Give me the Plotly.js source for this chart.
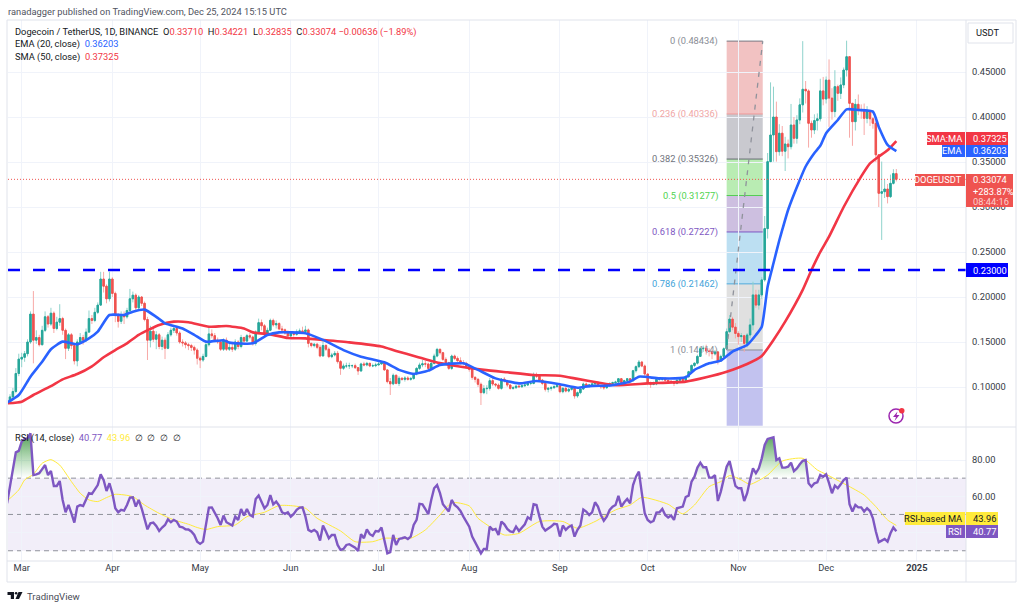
<!DOCTYPE html>
<html><head><meta charset="utf-8">
<script src="https://cdn.plot.ly/plotly-3.0.1.min.js"></script>
<style>html,body{margin:0;padding:0;background:#fff;overflow:hidden}#c{width:1024px;height:609px}</style>
</head><body><div id="c"></div>
<script>
const firstDay = '2024-02-25';
const openFirst = 0.082;
const closeFeb=[.083,.089,.095,.115,.131];
const closeMar=[.133,.137,.150,.181,.152,.155,.147,.163,.178,.170,.182,.165,.172,.176,.163,.143,.158,.146,.129,.150,.155,.152,.161,.176,.174,.183,.191,.220,.212,.198,.220];
const closeApr=[.204,.180,.173,.180,.178,.185,.198,.202,.188,.200,.193,.175,.152,.162,.153,.158,.145,.152,.143,.158,.163,.165,.160,.150,.149,.147,.146,.144,.141,.132];
const closeMay=[.130,.134,.147,.159,.157,.152,.150,.142,.152,.142,.144,.142,.150,.145,.155,.151,.157,.1555,.1485,.161,.1715,.168,.160,.163,.174,.169,.1705,.1645,.1635,.160,.1567];
const closeJun=[.1597,.1585,.1615,.1623,.1615,.1634,.1485,.146,.1475,.1441,.1345,.1461,.142,.1337,.1356,.1374,.1282,.1208,.1234,.1234,.1237,.1237,.1215,.1178,.1256,.1245,.1263,.1234,.1237,.1245];
const closeJul=[.1256,.1271,.1190,.1060,.1035,.1130,.1040,.1097,.1085,.1100,.1085,.1095,.1145,.1207,.1245,.1257,.1255,.1207,.1263,.1344,.1418,.1381,.1307,.1270,.1207,.1344,.1318,.1292,.1270,.1263,.1226];
const closeAug=[.1196,.1107,.1085,.1030,.0937,.0981,.0985,.1070,.1033,.1022,.0985,.1088,.1070,.1022,.0985,.0992,.1010,.1003,.1014,.1022,.1040,.1040,.1133,.1120,.1077,.1040,.0974,.0985,.0992,.1003,.1014];
const closeSep=[.0948,.0985,.0955,.0974,.0985,.0900,.0937,.0977,.1033,.1014,.1022,.1033,.1051,.1014,.1003,.0992,.1022,.1040,.1048,.1055,.1092,.1051,.1070,.1092,.1070,.1181,.1226,.1277,.1233,.1144];
const closeOct=[.1040,.1030,.1033,.1085,.1085,.1095,.1075,.1065,.1055,.1040,.1075,.1085,.1075,.1115,.1170,.1240,.1265,.1340,.1425,.1430,.1400,.1395,.1370,.1390,.1290,.1340,.1425,.1615,.1755,.1665,.1595];
const closeNov=[.1560,.1570,.1485,.1578,.1690,.2023,.1910,.2023,.2190,.2760,.3504,.3800,.4000,.3615,.3820,.3620,.3700,.3670,.3911,.3763,.3967,.4135,.4308,.4290,.3930,.3856,.3960,.3980,.4290,.4200];
const closeDec=[.4410,.4210,.4060,.4337,.4263,.4356,.4522,.4670,.4152,.3948,.4141,.4075,.4075,.3985,.4060,.3980,.3930,.3580,.3152,.3170,.3200,.3115,.3263,.3371,.33074];

const highFeb=[.085,.092,.099,.121,.137];
const highMar=[.138,.140,.153,.184,.2066,.163,.158,.168,.184,.180,.188,.184,.178,.192,.178,.165,.160,.160,.147,.153,.160,.158,.165,.185,.180,.188,.194,.228,.228,.214,.228];
const highApr=[.222,.206,.182,.184,.184,.188,.209,.206,.204,.202,.201,.195,.178,.168,.166,.162,.160,.156,.155,.161,.166,.168,.168,.162,.153,.151,.149,.148,.146,.143];
const highMay=[.134,.137,.150,.168,.164,.160,.155,.152,.154,.155,.148,.148,.153,.152,.158,.156,.159,.160,.157,.163,.176,.175,.170,.166,.176,.176,.174,.172,.168,.165,.163];
const highJun=[.162,.162,.164,.165,.167,.168,.165,.149,.149,.149,.147,.152,.148,.144,.138,.140,.140,.130,.126,.127,.127,.125,.126,.122,.127,.128,.128,.127,.126,.127];
const highJul=[.128,.129,.128,.119,.110,.115,.114,.112,.111,.112,.112,.111,.116,.122,.127,.130,.129,.127,.128,.137,.1435,.143,.139,.133,.128,.136,.136,.134,.133,.130,.128];
const highAug=[.124,.120,.112,.110,.105,.102,.102,.110,.110,.104,.104,.110,.111,.108,.103,.101,.102,.102,.103,.104,.105,.106,.116,.116,.114,.109,.105,.100,.101,.102,.103];
const highSep=[.102,.100,.100,.099,.101,.100,.095,.099,.105,.105,.103,.105,.106,.106,.102,.101,.103,.105,.106,.107,.110,.110,.108,.110,.110,.119,.124,.130,.129,.125];
const highOct=[.115,.106,.106,.110,.110,.110,.111,.108,.107,.107,.109,.110,.110,.113,.118,.125,.127,.136,.144,.146,.147,.143,.141,.141,.140,.136,.144,.165,.180,.178,.171];
const highNov=[.162,.160,.158,.160,.176,.217,.208,.208,.222,.290,.360,.4385,.4337,.4171,.392,.390,.378,.375,.4145,.4000,.402,.4207,.4843,.440,.4308,.3960,.403,.404,.4425,.4445];
const highDec=[.445,.4640,.432,.4520,.4360,.444,.455,.4848,.4670,.4152,.420,.4250,.414,.4150,.412,.408,.400,.3960,.3530,.3505,.330,.3255,.3360,.3420,.34221];

const lowFeb=[.081,.082,.088,.093,.112];
const lowMar=[.122,.128,.134,.148,.1263,.148,.145,.146,.161,.166,.168,.160,.163,.168,.158,.131,.140,.142,.125,.123,.148,.147,.150,.160,.170,.172,.181,.190,.205,.193,.195];
const lowApr=[.200,.172,.166,.170,.170,.176,.183,.194,.184,.186,.190,.173,.130,.144,.150,.142,.142,.141,.131,.142,.156,.160,.157,.148,.145,.143,.141,.140,.136,.125];
const lowMay=[.121,.128,.133,.145,.154,.150,.148,.140,.140,.140,.140,.139,.140,.142,.143,.147,.150,.153,.146,.146,.160,.163,.156,.158,.162,.167,.165,.163,.160,.158,.155];
const lowJun=[.156,.156,.157,.159,.160,.160,.144,.144,.144,.142,.133,.134,.140,.132,.132,.134,.126,.1135,.119,.121,.120,.121,.120,.1134,.117,.123,.123,.122,.122,.122];
const lowJul=[.124,.125,.118,.104,.0911,.102,.103,.101,.107,.106,.107,.107,.108,.113,.119,.122,.122,.119,.119,.125,.133,.136,.129,.125,.119,.119,.130,.128,.125,.124,.121];
const lowAug=[.117,.108,.105,.100,.0800,.092,.092,.096,.101,.100,.097,.097,.105,.100,.097,.097,.098,.099,.099,.100,.101,.102,.103,.110,.106,.102,.095,.094,.096,.098,.100];
const lowSep=[.093,.093,.094,.094,.096,.087,.088,.092,.097,.100,.099,.101,.102,.100,.098,.097,.098,.100,.103,.103,.104,.103,.104,.105,.106,.106,.116,.121,.122,.112];
const lowOct=[.102,.099,.102,.102,.107,.107,.106,.105,.104,.101,.103,.106,.105,.106,.110,.115,.122,.125,.134,.139,.136,.134,.131,.135,.125,.128,.133,.141,.160,.163,.154];
const lowNov=[.147,.150,.139,.144,.154,.163,.188,.186,.198,.217,.265,.3504,.3504,.3504,.357,.3565,.340,.354,.364,.3704,.3704,.392,.405,.415,.3660,.3770,.381,.385,.395,.413];
const lowDec=[.415,.3890,.397,.4000,.418,.420,.432,.445,.3770,.3680,.385,.4020,.398,.3800,.393,.390,.387,.3500,.3000,.2634,.310,.3040,.3100,.325,.32835];

const rsiFeb=[56.1,65.3,76.3,84.2,85];
const rsiMar=[90.1,91.6,91.9,94.7,71.7,72.1,72.7,75,77.2,71.7,73.9,65.7,65.7,68.4,58,51.2,55.2,50.6,45.5,54.3,55.2,54.7,58,61.7,61.3,63.5,66.2,72.1,69,62.9,67.2];
const rsiApr=[61.7,53.4,51.2,52.5,52.1,55.2,59.3,59.4,54.3,58,53.4,47.9,41.8,45.1,45.5,43.7,40.9,42.8,44.2,47.3,45.7,47,46.1,43.3,42.9,41.8,41.7,40.6,38.7,35];
const rsiMay=[33.8,35,44.2,53.8,53.9,51.2,47.9,44.2,49.4,45.7,44.8,43.9,48.8,47,53,49.4,53,49.7,48.8,58.5,60.4,57.1,53.4,55.2,60.7,55.6,57.1,54.9,51.2,50.3,51.2];
const rsiJun=[48.8,50.3,52.5,53.8,53.9,48.8,41.5,40.6,41.5,40.2,35.6,43.9,40.6,36.9,38.7,38.7,33.2,30.5,31,33.2,33.6,32.8,31.7,29.9,39.1,36.9,41.8,39.1,38.2,40.9];
const rsiJul=[40.6,42.8,36,28.6,29.2,38.7,33.2,36.5,36.9,37.4,36.5,37.8,44.2,47,55.8,55.6,53,50.1,58,64.4,66.2,61.7,55.6,53.4,51.6,58,55.2,53.9,51.9,48.8,45.7];
const rsiAug=[43.3,37.8,34.7,32.3,28.6,31,31,43.3,41.5,42,38.7,46.1,44.6,42,40.6,40.2,43.3,40.9,42.8,44.6,48.4,47.3,55.6,55.2,48.8,43.3,41.1,42,43.3,44.8,44.6];
const rsiSep=[37.8,43.9,41.5,43.1,43.9,37.8,41.5,43.9,52.7,51.6,49.7,51.2,56.7,54.3,49.7,46.6,48.8,52.5,54.3,55.2,60.2,54.3,56.7,58.5,56.1,66.2,70.8,73.6,61.7,50.6];
const rsiOct=[47,45.7,46.4,51,51.2,53,49.7,48.3,49.4,47,53.4,53.8,54.3,59.6,60.4,68.1,70.8,75.8,78.5,76,76,70.3,70.3,71.7,57.4,62.6,69,76.3,79.4,71.7,65.7];
const rsiNov=[64.4,64.4,57.4,61.7,69,75.4,72.7,75.4,80.9,88.3,91.6,91.9,92.5,80,80.9,75.8,75.8,76.3,78.5,73.9,75.4,77.6,79.6,80,67.2,65.3,67.2,67.7,71.7,70.8];
const rsiDec=[72.1,67.2,61.7,65.9,64.4,66.6,69,70.3,55.6,51.6,55.2,53.9,53.9,51.6,53.4,51.9,47.9,40.6,34.7,35.6,36.5,35,39.6,42.8,40.77];

const rsiMaDates=['2024-02-25','2024-02-29','2024-03-02','2024-03-05','2024-03-08','2024-03-11','2024-03-14','2024-03-18','2024-03-21','2024-03-24','2024-03-27','2024-03-30','2024-04-02','2024-04-08','2024-04-12','2024-04-17','2024-04-22','2024-04-27','2024-04-30','2024-05-03','2024-05-07','2024-05-13','2024-05-17','2024-05-23','2024-05-28','2024-06-02','2024-06-06','2024-06-10','2024-06-18','2024-06-23','2024-06-29','2024-07-03','2024-07-12','2024-07-17','2024-07-22','2024-07-26','2024-08-01','2024-08-04','2024-08-08','2024-08-13','2024-08-18','2024-08-25','2024-09-02','2024-09-07','2024-09-13','2024-09-20','2024-09-25','2024-09-29','2024-10-08','2024-10-10','2024-10-13','2024-10-17','2024-10-22','2024-10-26','2024-10-29','2024-11-02','2024-11-05','2024-11-11','2024-11-16','2024-11-23','2024-11-28','2024-12-01','2024-12-08','2024-12-14','2024-12-18','2024-12-22','2024-12-25'];
const rsiMaValues=[57.4,63.5,69,72.1,78.2,80.2,77.2,68.1,61.7,58,57.1,59.3,61.1,59.8,55.2,50.6,47,44.6,42.8,41.7,43.3,44.2,48.8,51.2,54.9,54.7,53.4,47.9,40.9,35,35,36.9,36.9,41.5,49.7,56.5,54.7,47.9,43.3,38.7,39.6,46.1,46.1,42.4,46.1,52.5,55.2,59.4,55.6,53.4,50.3,55.2,65.3,68.1,71.4,69,66.6,71.7,79.4,80.9,74.5,72.1,66.2,60.7,54.3,47,43.96];

const smaDates=['2024-02-25','2024-03-01','2024-03-05','2024-03-11','2024-03-15','2024-03-20','2024-03-25','2024-03-29','2024-04-02','2024-04-06','2024-04-10','2024-04-17','2024-04-22','2024-04-27','2024-05-04','2024-05-10','2024-05-16','2024-05-19','2024-05-25','2024-05-31','2024-06-06','2024-06-12','2024-06-21','2024-07-02','2024-07-07','2024-07-14','2024-07-20','2024-07-27','2024-08-06','2024-08-14','2024-08-23','2024-09-01','2024-09-07','2024-09-14','2024-09-20','2024-10-01','2024-10-14','2024-10-21','2024-10-28','2024-11-04','2024-11-09','2024-11-13','2024-11-17','2024-11-23','2024-11-26','2024-11-29','2024-12-02','2024-12-07','2024-12-13','2024-12-16','2024-12-19','2024-12-22','2024-12-25'];
const smaValues=[.0818,.0837,.0911,.101,.1085,.1144,.123,.133,.141,.1485,.158,.169,.1726,.172,.167,.1678,.165,.1607,.1585,.1545,.154,.1523,.1496,.145,.140,.1337,.1281,.1237,.119,.1163,.1133,.1125,.109,.105,.102,.104,.106,.1108,.117,.1256,.1345,.1523,.1726,.208,.230,.250,.267,.300,.334,.3485,.356,.363,.37325];
const emaDates=['2024-02-25','2024-02-29','2024-03-04','2024-03-08','2024-03-11','2024-03-15','2024-03-20','2024-03-24','2024-03-27','2024-03-31','2024-04-05','2024-04-08','2024-04-12','2024-04-16','2024-04-19','2024-04-25','2024-04-29','2024-05-03','2024-05-09','2024-05-11','2024-05-19','2024-05-24','2024-05-28','2024-06-06','2024-06-12','2024-06-19','2024-06-25','2024-07-03','2024-07-08','2024-07-13','2024-07-18','2024-07-22','2024-07-30','2024-08-04','2024-08-10','2024-08-18','2024-08-24','2024-09-01','2024-09-07','2024-09-11','2024-09-19','2024-09-25','2024-09-28','2024-10-05','2024-10-14','2024-10-17','2024-10-22','2024-10-26','2024-10-30','2024-11-04','2024-11-07','2024-11-09','2024-11-11','2024-11-13','2024-11-15','2024-11-16','2024-11-18','2024-11-22','2024-11-24','2024-11-27','2024-11-29','2024-12-01','2024-12-05','2024-12-08','2024-12-12','2024-12-17','2024-12-19','2024-12-22','2024-12-25'];
const emaValues=[.0826,.0911,.1115,.128,.142,.1504,.1474,.154,.1615,.180,.180,.1837,.186,.178,.1707,.165,.158,.1504,.152,.1493,.1485,.1578,.1607,.1597,.1523,.141,.1337,.1274,.119,.1145,.1182,.1244,.1263,.119,.1096,.104,.1066,.103,.0992,.101,.102,.106,.1115,.1096,.1108,.119,.1263,.1293,.1393,.1467,.1578,.167,.2115,.2375,.263,.2745,.2967,.330,.345,.360,.368,.382,.3967,.4085,.4078,.406,.389,.369,.36203];

const fibRatios=['0','0.236','0.382','0.5','0.618','0.786','1'];
const fibLevels=[.48434,.40336,.35326,.31277,.27227,.21462,.14114];
const fibFills=['#f2c2c2','#c9c9cf','#b9ecb3','#cdbfe0','#bcdff2','#e0e0e0','#c2c2ef'];
const fibLines=['#777a84','#ef9a9a','#666a72','#55cc55','#7e57c2','#4aa8dc','#8a8d96'];
const fibText=['#8a8d96','#efa5a5','#6f727b','#4fd34f','#7e57c2','#3fa3d9','#8a8d96'];
const fibStart='2024-10-28', fibEnd='2024-11-09 08:00', fibFloor=.0570;
const supportLevel=.23;
const priceTicks=[.10,.15,.20,.25,.30,.35,.40,.45];
const rsiTicks=[40,60,80];
const monthDates=['2024-03-01','2024-04-01','2024-05-01','2024-06-01','2024-07-01','2024-08-01','2024-09-01','2024-10-01','2024-11-01','2024-12-01','2025-01-01'];
const monthLabels=['Mar','Apr','May','Jun','Jul','Aug','Sep','Oct','Nov','Dec','<b>2025</b>'];

const close=[].concat(closeFeb,closeMar,closeApr,closeMay,closeJun,closeJul,closeAug,closeSep,closeOct,closeNov,closeDec);
const high0=[].concat(highFeb,highMar,highApr,highMay,highJun,highJul,highAug,highSep,highOct,highNov,highDec);
const low0=[].concat(lowFeb,lowMar,lowApr,lowMay,lowJun,lowJul,lowAug,lowSep,lowOct,lowNov,lowDec);
const rsi=[].concat(rsiFeb,rsiMar,rsiApr,rsiMay,rsiJun,rsiJul,rsiAug,rsiSep,rsiOct,rsiNov,rsiDec);
const open=close.map((c,i)=>i?close[i-1]:openFirst);
const high=high0.map((h,i)=>Math.max(h,open[i],close[i]));
const low=low0.map((l,i)=>Math.min(l,open[i],close[i]));
const days=close.map((_,i)=>{const d=new Date(firstDay+'T00:00:00Z');d.setUTCDate(d.getUTCDate()+i);return d.toISOString().slice(0,10);});

const FONT='Roboto, Arial, sans-serif';
const FS=9.3;
const L=8,R=966,T=20,B=561,SPLIT=427;
const px=x=>(x-L)/(R-L), py=y=>(B-y)/(B-T);
const rect=(x0,y0,x1,y1,fill,line)=>({type:'rect',xref:'paper',yref:'paper',x0:px(x0),x1:px(x1),y0:py(y0),y1:py(y1),fillcolor:fill,line:{color:line||fill,width:line?1:0},layer:'above'});
const seg=(x0,y0,x1,y1,color)=>({type:'line',xref:'paper',yref:'paper',x0:px(x0),x1:px(x1),y0:py(y0),y1:py(y1),line:{color:color,width:1},layer:'above'});
const poly=(pts,fill,line)=>({type:'path',xref:'paper',yref:'paper',path:'M'+pts.map(p=>px(p[0])+' '+py(p[1])).join('L')+'Z',fillcolor:fill,line:{color:line||fill,width:line?1:0},layer:'above'});
const ann=(x,y,text,color,size,anchor)=>({xref:'paper',yref:'paper',x:px(x),y:py(y),text:text,showarrow:false,xanchor:anchor||'left',yanchor:'middle',font:{family:FONT,size:size||FS,color:color||'#131722'},borderpad:0,align:anchor||'left'});
const red=t=>'<span style="color:#f23645">'+t+'</span>';
const gap='&nbsp;&nbsp;';

const shapes=[];
fibLevels.forEach((lv,i)=>{
  const next=i<fibLevels.length-1?fibLevels[i+1]:fibFloor;
  shapes.push({type:'rect',xref:'x',yref:'y',x0:fibStart,x1:fibEnd,y0:next,y1:lv,fillcolor:fibFills[i],line:{width:0},layer:'below'});
  shapes.push({type:'line',xref:'x',yref:'y',x0:fibStart,x1:fibEnd,y0:lv,y1:lv,line:{color:fibLines[i],width:1},layer:'below'});
});
shapes.push({type:'rect',xref:'paper',yref:'y2',x0:0,x1:1,y0:30,y1:70,fillcolor:'rgba(126,87,194,0.10)',line:{width:0},layer:'below'});
[30,50,70].forEach(v=>shapes.push({type:'line',xref:'paper',yref:'y2',x0:0,x1:1,y0:v,y1:v,line:{color:'#8f929b',width:1,dash:'5px,4px'},layer:'below'}));
shapes.push({type:'line',xref:'paper',yref:'y',x0:0,x1:1,y0:close[close.length-1],y1:close[close.length-1],line:{color:'#ef5350',width:1,dash:'1px,2px'},layer:'above'});
shapes.push({type:'line',xref:'paper',yref:'y',x0:0,x1:1,y0:supportLevel,y1:supportLevel,line:{color:'#0000ff',width:2.5,dash:'12px,13px'},layer:'above'});
// frame
shapes.push(rect(7,20,1016,582,'rgba(0,0,0,0)','#e0e3eb'));
shapes.push(seg(966,20,966,582,'#e0e3eb'),seg(7,427,1016,427,'#e0e3eb'),seg(7,561,1016,561,'#e0e3eb'));
// usdt button
shapes.push(rect(968,23,1013,43,'#ffffff','#e0e3eb'));
// tags
shapes.push(rect(927,132,965,145,'#f23645'),rect(966,132,1008,145,'#f23645'));
shapes.push(rect(942,145,965,157,'#2962ff'),rect(966,145,1008,157,'#2962ff'));
shapes.push(rect(915,174,965,186,'#ef5350'),rect(966,174,1013,207,'#ef5350'));
shapes.push(rect(966,263,1008,277,'#0000ff'));
shapes.push(rect(905,512,965,525,'#ffeb3b'),rect(966,512,998,525,'#ffeb3b'));
shapes.push(rect(946,525,965,538,'#7e57c2'),rect(966,525,998,538,'#7e57c2'));
// icon
shapes.push({type:'circle',xref:'paper',yref:'paper',x0:px(889),x1:px(903),y0:py(409),y1:py(423),fillcolor:'rgba(0,0,0,0)',line:{color:'#9c27b0',width:1.5},layer:'above'});
shapes.push(poly([[897.5,411.5],[893,417],[896,417],[894.5,421],[899.5,415],[896.5,415]],'#9c27b0'));
shapes.push({type:'circle',xref:'paper',yref:'paper',x0:px(899),x1:px(904.5),y0:py(408),y1:py(413.5),fillcolor:'#f23645',line:{width:0},layer:'above'});
// logo
shapes.push(poly([[7.5,592],[14,592],[14,599],[10.8,599],[10.8,595],[7.5,595]],'#131722'));
shapes.push({type:'circle',xref:'paper',yref:'paper',x0:px(14.8),x1:px(17.4),y0:py(592),y1:py(594.6),fillcolor:'#131722',line:{width:0},layer:'above'});
shapes.push(poly([[18.5,592],[22.5,592],[19,599],[15.5,599]],'#131722'));

const annotations=[
 ann(7,11,'ranadagger published on TradingView.com, Dec 25, 2024 15:15 UTC','#50535e'),
 ann(14,31.5,'Dogecoin / TetherUS, 1D, BINANCE'+gap+'O'+red('0.33710')+gap+'H'+red('0.34221')+gap+'L'+red('0.32835')+gap+'C'+red('0.33074 −0.00636 (−1.89%)'),'#131722'),
 ann(14,44,'EMA (20, close)'+gap+'<span style="color:#2962ff">0.36203</span>','#131722'),
 ann(14,57,'SMA (50, close)'+gap+red('0.37325'),'#131722'),
 ann(14,438,'RSI (14, close)'+gap+'<span style="color:#7e57c2">40.77</span>'+gap+'<span style="color:#ffeb3b">43.96</span>'+gap+'∅'+gap+'∅'+gap+'∅'+gap+'∅','#131722'),
 ann(975,33,'USDT','#131722'),
 ann(963,138.5,'SMA:MA','#fff',FS,'right'), ann(971.5,138.5,'0.37325','#fff'),
 ann(963,151,'EMA','#fff',FS,'right'), ann(971.5,151,'0.36203','#fff'),
 ann(963,180,'DOGEUSDT','#fff',FS,'right'), ann(971.5,180,'0.33074','#fff'),
 ann(971.5,191,'+283.87%','#fff'), ann(971.5,201.5,'08:44:16','#fbd0cf'),
 ann(971.5,270,'0.23000','#fff'),
 ann(963,518.5,'RSI-based MA','#131722',FS,'right'), ann(971.5,518.5,'43.96','#131722'),
 ann(963,531.5,'RSI','#fff',FS,'right'), ann(971.5,531.5,'40.77','#fff'),
 ann(25.5,596,'TradingView','#4a4d57',9.6),
];
fibLevels.forEach((lv,i)=>annotations.push({xref:'paper',yref:'y',x:px(720),y:lv,text:fibRatios[i]+' ('+lv.toFixed(5)+')',showarrow:false,xanchor:'right',yanchor:'middle',font:{family:FONT,size:FS,color:fibText[i]}}));

const baseCandle={type:'candlestick',x:days,open:open,close:close,xaxis:'x',yaxis:'y',hoverinfo:'skip',whiskerwidth:0,showlegend:false};
const traces=[
 Object.assign({},baseCandle,{high:high,low:low,increasing:{line:{color:'#8fd3cc',width:1},fillcolor:'#26a69a'},decreasing:{line:{color:'#f7a9a7',width:1},fillcolor:'#ef5350'}}),
 Object.assign({},baseCandle,{high:open.map((o,i)=>Math.max(o,close[i])),low:open.map((o,i)=>Math.min(o,close[i])),increasing:{line:{color:'#26a69a',width:1},fillcolor:'#26a69a'},decreasing:{line:{color:'#ef5350',width:1},fillcolor:'#ef5350'}}),
 {type:'scatter',mode:'lines',x:[fibStart,fibEnd],y:[fibLevels[6],fibLevels[0]],xaxis:'x',yaxis:'y',line:{color:'#8f929b',width:1.3,dash:'5px,6px'},hoverinfo:'skip',showlegend:false},
 {type:'scatter',mode:'lines',x:smaDates,y:smaValues,xaxis:'x',yaxis:'y',line:{color:'#f23645',width:2.6,shape:'spline',smoothing:.5},hoverinfo:'skip',showlegend:false},
 {type:'scatter',mode:'lines',x:emaDates,y:emaValues,xaxis:'x',yaxis:'y',line:{color:'#2962ff',width:2.6,shape:'spline',smoothing:.5},hoverinfo:'skip',showlegend:false},
 {type:'scatter',mode:'lines',x:days,y:days.map(()=>70),xaxis:'x',yaxis:'y2',line:{width:0},hoverinfo:'skip',showlegend:false},
 {type:'scatter',mode:'lines',x:days,y:rsi.map(v=>Math.max(v,70)),xaxis:'x',yaxis:'y2',line:{width:0},fill:'tonexty',fillgradient:{type:'vertical',start:70,stop:94,colorscale:[[0,'rgba(76,175,80,0)'],[1,'rgba(56,142,60,0.85)']]},hoverinfo:'skip',showlegend:false},
 {type:'scatter',mode:'lines',x:rsiMaDates,y:rsiMaValues,xaxis:'x',yaxis:'y2',line:{color:'#ffeb3b',width:1,shape:'spline',smoothing:.6},hoverinfo:'skip',showlegend:false},
 {type:'scatter',mode:'lines',x:days,y:rsi,xaxis:'x',yaxis:'y2',line:{color:'#7e57c2',width:2.4},hoverinfo:'skip',showlegend:false},
];
const axisFont={family:FONT,size:FS,color:'#363a45'};
const layout={
 width:1024,height:609,paper_bgcolor:'#fff',plot_bgcolor:'#fff',showlegend:false,hovermode:false,dragmode:false,
 margin:{l:L,r:1024-R,t:T,b:609-B,pad:0},
 xaxis:{type:'date',range:['2024-02-25 07:40','2025-01-17 19:40'],anchor:'y2',tickmode:'array',tickvals:monthDates,ticktext:monthLabels,tickfont:axisFont,ticks:'',showgrid:true,gridcolor:'#f0f3fa',gridwidth:1,zeroline:false,showline:false,rangeslider:{visible:false},fixedrange:true},
 yaxis:{domain:[(B-SPLIT)/(B-T),1],range:[.05556,.50778],side:'right',anchor:'x',tickmode:'array',tickvals:priceTicks,ticktext:priceTicks.map(v=>v.toFixed(5)),tickfont:axisFont,ticks:'',ticklabelstandoff:5,gridcolor:'#f0f3fa',zeroline:false,showline:false,fixedrange:true},
 yaxis2:{domain:[0,(B-SPLIT)/(B-T)],range:[24.35,98.18],side:'right',anchor:'x',tickmode:'array',tickvals:rsiTicks,ticktext:rsiTicks.map(v=>v===40?'':v.toFixed(2)),tickfont:axisFont,ticks:'',ticklabelstandoff:5,gridcolor:'#f0f3fa',zeroline:false,showline:false,fixedrange:true},
 shapes:shapes,annotations:annotations
};
Plotly.newPlot('c',traces,layout,{staticPlot:true,displayModeBar:false});
</script></body></html>
